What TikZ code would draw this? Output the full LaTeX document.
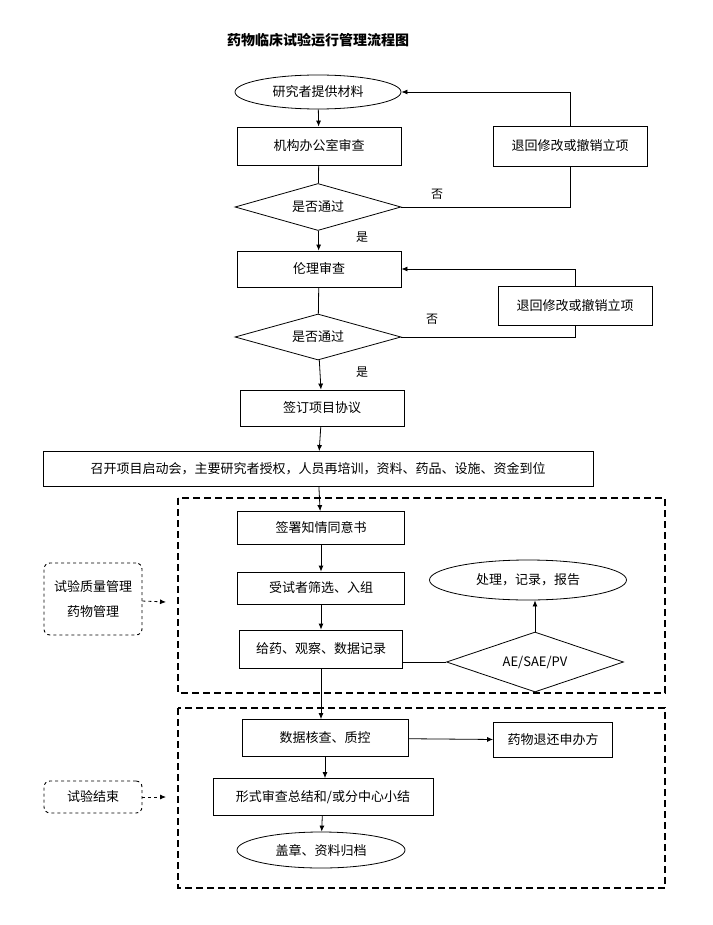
\documentclass[tikz,border=0pt]{standalone}
\usepackage{fontspec}
\setmainfont{Noto Sans CJK SC}
\usetikzlibrary{shapes.geometric,arrows.meta}
\begin{document}
\begin{tikzpicture}[x=1pt,y=-1pt,
  every node/.style={font=\fontsize{13}{15}\selectfont},
  box/.style={draw,line width=0.8pt,minimum height=36pt,inner sep=0pt},
  ell/.style={draw,ellipse,line width=0.8pt,inner sep=0pt},
  dia/.style={draw,diamond,aspect=3.5,line width=0.8pt,inner sep=0pt},
  dbox/.style={draw,dashed,rounded corners=6pt,line width=0.9pt},
  frame/.style={draw,dash pattern=on 7pt off 4pt,line width=1.1pt},
  ln/.style={line width=0.8pt},
  ar/.style={line width=0.8pt,-{Latex[length=6pt,width=5pt]}},
  lab/.style={font=\fontsize{12}{14}\selectfont}]
\useasboundingbox (0,0) rectangle (712,925);
\node[font=\bfseries\fontsize{14}{16}\selectfont] (title) at (318,40) {药物临床试验运行管理流程图};
\node[ell,minimum width=166pt,minimum height=34pt] (e1) at (318,92) {研究者提供材料};
\node[box,minimum width=164pt,minimum height=38pt] (b1) at (319,146) {机构办公室审查};
\node[dia,minimum width=166pt,minimum height=47pt] (d1) at (318,207) {是否通过};
\node[box,minimum width=154pt,minimum height=40pt] (r1) at (570,146) {退回修改或撤销立项};
\node[box,minimum width=164pt,minimum height=36pt] (b2) at (319,269) {伦理审查};
\node[dia,minimum width=166pt,minimum height=46pt] (d2) at (318,337) {是否通过};
\node[box,minimum width=154pt,minimum height=39pt] (r2) at (575,306) {退回修改或撤销立项};
\node[box,minimum width=164pt,minimum height=36pt] (b3) at (322,408) {签订项目协议};
\node[box,minimum width=550pt,minimum height=35pt] (b4) at (318,469) {召开项目启动会，主要研究者授权，人员再培训，资料、药品、设施、资金到位};
\node[box,minimum width=167pt,minimum height=33pt] (b5) at (321,528) {签署知情同意书};
\node[box,minimum width=167pt,minimum height=32pt] (b6) at (321,588) {受试者筛选、入组};
\node[box,minimum width=163pt,minimum height=38pt] (b7) at (321,649) {给药、观察、数据记录};
\node[ell,minimum width=197pt,minimum height=40pt] (e2) at (528,580) {处理，记录，报告};
\node[dia,minimum width=177pt,minimum height=60pt] (d3) at (535,662) {AE/SAE/PV};
\node[dbox,minimum width=98pt,minimum height=72pt,align=center] (q1) at (93,599) {试验质量管理\\[10pt]药物管理};
\node[box,minimum width=166pt,minimum height=37pt] (b8) at (325,738) {数据核查、质控};
\node[box,minimum width=119pt,minimum height=35pt] (r3) at (553,740) {药物退还申办方};
\node[box,minimum width=220pt,minimum height=37pt] (b9) at (323,797) {形式审查总结和/或分中心小结};
\node[ell,minimum width=168pt,minimum height=36pt] (e3) at (321,850) {盖章、资料归档};
\node[dbox,minimum width=98pt,minimum height=32pt] (q2) at (93,797) {试验结束};
\coordinate (f1a) at (178,498); \coordinate (f1b) at (665,693);
\coordinate (f2a) at (178,708); \coordinate (f2b) at (665,888);
\draw[frame] (f1a) rectangle (f1b);
\draw[frame] (f2a) rectangle (f2b);
% main flow
\draw[ar] (e1) -- (b1);
\draw[ln] (b1) -- (d1);
\draw[ar] (d1) -- (b2);
\draw[ln] (b2) -- (d2);
\draw[ar] (d2) -- (b3);
\draw[ar] (b3) -- (b4);
\draw[ar] (b4) -- (b5);
\draw[ar] (b5) -- (b6);
\draw[ar] (b6) -- (b7);
\draw[ar] (b7.south) -- (b7.south |- b8.north);
\draw[ar] (b8) -- (r3);
\draw[ar] (b8.south) -- (b8.south |- b9.north);
\draw[ar] (b9) -- (e3);
\draw[ln] (b7.east |- d3.west) -- (d3.west);
\draw[ar] (d3.north) -- (d3.north |- e2.south);
% loops
\draw[ln] (d1.east) -- (r1.south |- d1.east) -- (r1.south);
\draw[ar] (r1.north) |- (e1.east);
\draw[ln] (d2.east) -- (r2.south |- d2.east) -- (r2.south);
\draw[ar] (r2.north) |- (b2.east);
\node[lab] (n1) at (437,194) {否};
\node[lab] (y1) at (362,237) {是};
\node[lab] (n2) at (432,319) {否};
\node[lab] (y2) at (362,372) {是};
\coordinate (t1) at (166,602);
\coordinate (t2) at (166,797);
\draw[dashed,line width=0.8pt,-{Latex[length=6pt,width=5pt]}] (q1) -- (t1);
\draw[dashed,line width=0.8pt,-{Latex[length=6pt,width=5pt]}] (q2) -- (t2);
\end{tikzpicture}
\end{document}
